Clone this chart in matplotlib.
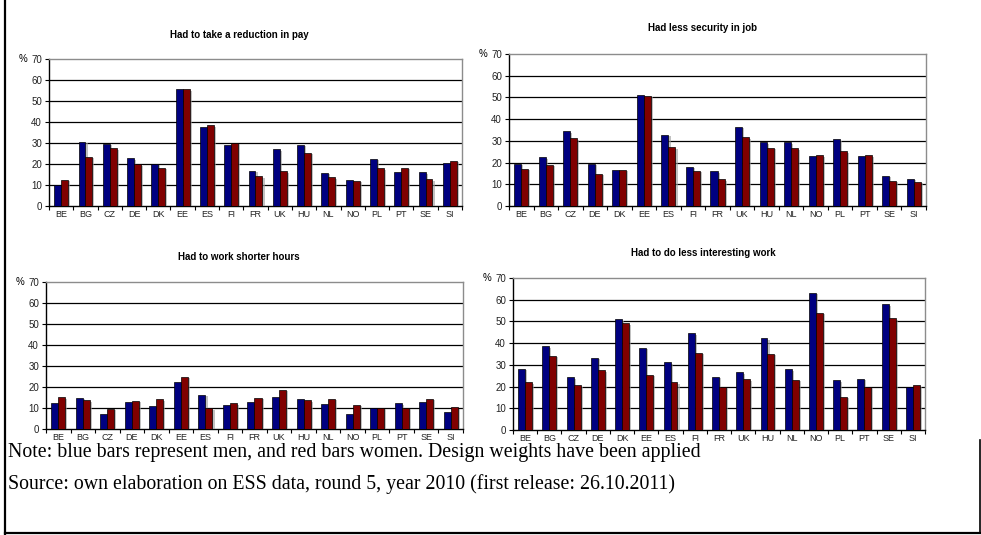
import matplotlib
matplotlib.use("Agg")
import matplotlib.pyplot as plt
import matplotlib.patheffects as pe
from matplotlib.lines import Line2D
import numpy as np

COUNTRIES = ["BE", "BG", "CZ", "DE", "DK", "EE", "ES", "FI", "FR",
             "UK", "HU", "NL", "NO", "PL", "PT", "SE", "SI"]

# % of respondents, men / women
PAY_MEN   = [10.2, 30.5, 29.7, 22.7, 20.0, 55.6, 37.7, 29.2, 16.8,
             27.0, 29.1, 15.8, 12.6, 22.5, 16.1, 16.1, 20.3]
PAY_WOMEN = [12.6, 23.5, 27.5, 19.8, 18.1, 55.6, 38.5, 30.2, 14.2,
             16.6, 25.2, 13.6, 12.1, 17.9, 18.1, 12.8, 21.6]

SEC_MEN   = [19.3, 22.5, 34.4, 19.3, 16.6, 51.3, 32.7, 18.0, 16.0,
             36.4, 29.4, 29.4, 22.8, 30.7, 22.8, 14.0, 12.6]
SEC_WOMEN = [17.1, 19.1, 31.1, 14.8, 16.6, 50.7, 27.1, 16.3, 12.3,
             31.7, 26.7, 26.5, 23.4, 25.1, 23.4, 11.7, 11.1]

HRS_MEN   = [12.5, 14.8, 7.1, 13.0, 11.0, 22.4, 16.2, 11.6, 12.7,
             15.2, 14.1, 12.1, 7.3, 10.0, 12.2, 12.7, 8.1]
HRS_WOMEN = [15.1, 13.7, 9.5, 13.3, 14.1, 24.8, 9.8, 12.2, 14.8,
             18.7, 13.7, 14.4, 11.4, 10.0, 10.0, 14.3, 10.3]

INT_MEN   = [28.1, 38.5, 24.2, 33.3, 50.9, 37.9, 31.2, 44.5, 24.5,
             26.5, 42.2, 28.0, 63.1, 22.8, 23.7, 57.8, 20.0]
INT_WOMEN = [22.0, 34.1, 20.5, 27.5, 49.1, 25.5, 22.0, 35.5, 19.9,
             23.4, 35.0, 23.2, 54.0, 15.4, 19.9, 51.5, 20.6]

TITLES = ["Had to take a reduction in pay", "Had less security in job",
          "Had to work shorter hours", "Had to do less interesting work"]

W, H = 981, 535
BLUE, RED = "#000080", "#800000"

# (left, right, top, bottom) of each plot area and title position, in pixels
PANELS = [
    ((49, 462, 59, 206), (239, 35), PAY_MEN, PAY_WOMEN),
    ((509, 926, 54, 206), (703, 28), SEC_MEN, SEC_WOMEN),
    ((46, 463, 282, 429), (239, 257), HRS_MEN, HRS_WOMEN),
    ((513, 925, 278, 430), (703, 253), INT_MEN, INT_WOMEN),
]

plt.rcParams["font.family"] = ["Liberation Sans", "DejaVu Sans"]

fig = plt.figure(figsize=(W / 100, H / 100), dpi=100)


def px_axes(l, r, t, b):
    return fig.add_axes([l / W, 1 - b / H, (r - l) / W, (b - t) / H])


shadow = [pe.SimplePatchShadow(offset=(1.5, -1), shadow_rgbFace="#999999", alpha=0.6),
          pe.Normal()]

x = np.arange(len(COUNTRIES))
bw = 1 / 3.5

for (box, tpos, men, women), title in zip(PANELS, TITLES):
    l, r, t, b = box
    ax = px_axes(l, r, t, b)
    ax.bar(x - bw / 2, men, bw, color=BLUE, edgecolor="black", lw=0.5,
           zorder=3, path_effects=shadow)
    ax.bar(x + bw / 2, women, bw, color=RED, edgecolor="black", lw=0.5,
           zorder=3, path_effects=shadow)
    ax.set_xlim(-0.5, len(COUNTRIES) - 0.5)
    ax.set_ylim(0, 70)
    ax.set_yticks(range(0, 71, 10))
    ax.tick_params(axis="y", labelsize=7, length=3, width=0.8, pad=2,
                   colors="black", labelcolor="#222222")
    for yv in range(10, 70, 10):
        ax.axhline(yv, color="black", lw=0.9, zorder=1)
    ax.set_xticks(np.arange(len(COUNTRIES) + 1) - 0.5)
    ax.set_xticklabels([])
    ax.set_xticks(x, minor=True)
    ax.set_xticklabels(COUNTRIES, minor=True, fontsize=6.5, color="#222222")
    ax.tick_params(axis="x", which="major", length=3, width=0.8)
    ax.tick_params(axis="x", which="minor", length=0, pad=3)
    for s in ("top", "right"):
        ax.spines[s].set_color("#8c8c8c")
        ax.spines[s].set_linewidth(1.0)
    for s in ("left", "bottom"):
        ax.spines[s].set_color("black")
        ax.spines[s].set_linewidth(1.0)
    fig.text(tpos[0] / W, 1 - tpos[1] / H, title, ha="center", va="center",
             fontsize=7, fontweight="bold")
    fig.text((l - 26) / W, 1 - t / H, "%", ha="center", va="center", fontsize=7)

serif = ["Liberation Serif", "DejaVu Serif"]
fig.text(8 / W, 1 - 457 / H,
         "Note: blue bars represent men, and red bars women. Design weights have been applied",
         ha="left", va="baseline", fontsize=14.3, family=serif)
fig.text(8 / W, 1 - 489 / H,
         "Source: own elaboration on ESS data, round 5, year 2010 (first release: 26.10.2011)",
         ha="left", va="baseline", fontsize=14.3, family=serif)

# page frame lines
fig.add_artist(Line2D([4.5 / W, 4.5 / W], [0, 1], color="black", lw=1.6))
fig.add_artist(Line2D([4.5 / W, 1], [1 - 533 / H, 1 - 533 / H], color="black", lw=1.6))
fig.add_artist(Line2D([979.5 / W, 979.5 / W], [1 - 533 / H, 1 - 440 / H],
                      color="black", lw=1.2))

fig.savefig("out.png", dpi=100)
